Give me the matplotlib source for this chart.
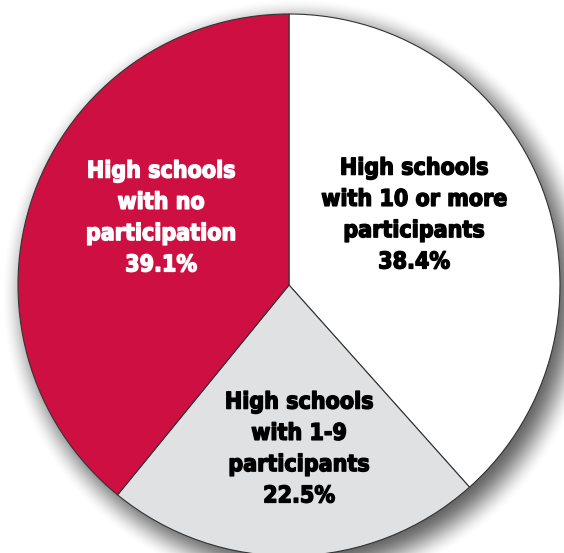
import numpy as np
import matplotlib.pyplot as plt
import matplotlib.patheffects as pe

labels = ['High schools\nwith 10 or more\nparticipants', 'High schools\nwith 1-9\nparticipants',
          'High schools\nwith no\nparticipation']
shares = [38.4, 22.5, 39.1]
colors = ['#ffffff', '#e0e1e3', '#cd1041']
text_colors = ['#000000', '#000000', '#ffffff']

W, H = 564, 553
cx, cy, R = 289, H - 285, 271

fig = plt.figure(figsize=(W / 100, H / 100), dpi=100)
ax = fig.add_axes([0, 0, 1, 1])

# soft drop shadow behind the pie
yy, xx = np.mgrid[0:H, 0:W]
dist = np.hypot(xx + 0.5 - (cx + 9), (H - yy - 0.5) - (cy - 10))
t = np.clip((dist - (R - 16)) / 42.0, 0, 1)
alpha = 0.78 * (1 - t * t * (3 - 2 * t))
shadow = np.zeros((H, W, 4))
shadow[..., :3] = 0.22
shadow[..., 3] = alpha
ax.imshow(shadow, extent=(0, W, 0, H), origin='upper', zorder=0, interpolation='bilinear')

wedges, _ = ax.pie(shares, colors=colors, startangle=90, counterclock=False,
                   center=(cx, cy), radius=R,
                   wedgeprops=dict(edgecolor='#333333', linewidth=0.8))
for w in wedges:
    w.set_zorder(2)

label_pos = [(414, H - 215), (299, H - 449), (161, H - 218)]
for lab, val, (x, y), tc in zip(labels, shares, label_pos, text_colors):
    ax.text(x, y, f'{lab}\n{val}%', ha='center', va='center', color=tc,
            family='DejaVu Sans', stretch='condensed', weight='bold', fontsize=16.6,
            linespacing=1.46, zorder=3,
            path_effects=[pe.withStroke(linewidth=1.0, foreground=tc)])

ax.set_xlim(0, W)
ax.set_ylim(0, H)
ax.set_aspect('equal')
ax.axis('off')

fig.savefig('out.png', dpi=100)
